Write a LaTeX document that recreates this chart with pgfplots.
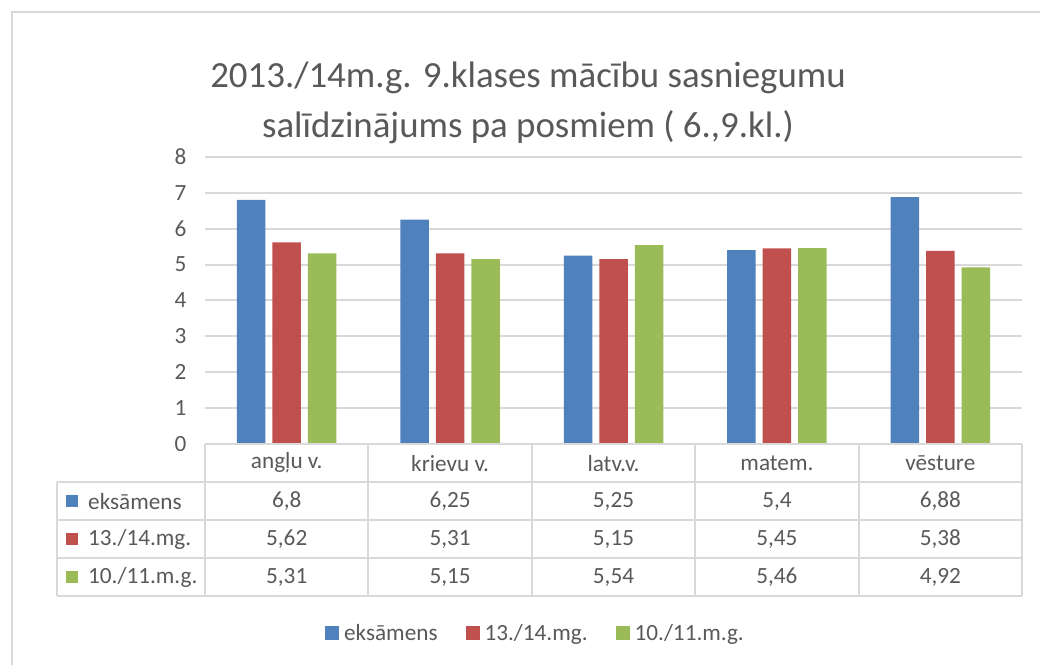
\documentclass[border=0pt]{standalone}
\usepackage{pgfplots}
\pgfplotsset{compat=1.18}
\usepackage{pgfplotstable}
\usepackage{fontspec}
\setmainfont{Carlito}

\definecolor{cblue}{HTML}{4F81BD}
\definecolor{cred}{HTML}{C0504D}
\definecolor{cgreen}{HTML}{9BBB59}
\definecolor{cgrid}{HTML}{D9D9D9}
\definecolor{ctext}{HTML}{595959}

% x = category index, one column per series
\pgfplotstableread{
x  eks   mg1314  mg1011
0  6.80  5.62    5.31
1  6.25  5.31    5.15
2  5.25  5.15    5.54
3  5.40  5.45    5.46
4  6.88  5.38    4.92
}\scores

\newcommand{\tabfont}{\fontsize{23.3}{27}\selectfont}

\pgfplotsset{
    tablerow/.style={draw=none, forget plot, point meta=explicit,
        nodes near coords={\pgfmathprintnumber[use comma, fixed, precision=2]{\pgfplotspointmeta}},
        every node near coord/.append style={anchor=center, font=\tabfont, text=ctext}},
}

\begin{document}
\begin{tikzpicture}
\begin{axis}[
    x=163.4bp, y=35.9bp,
    xmin=-0.5, xmax=4.5,
    ymin=0, ymax=8,
    clip=false,
    axis line style={draw=none},
    tick style={draw=none},
    ymajorgrids,
    grid style={cgrid, line width=2bp},
    ytick={0,1,...,8},
    xtick={0,...,4},
    xticklabels={angļu v., krievu v., latv.v., matem., vēsture},
    xticklabel style={anchor=center, yshift=-19bp},
    yticklabel style={xshift=-15bp},
    ticklabel style={font=\tabfont, text=ctext},
    /pgf/number format/assume math mode=true,
    legend columns=3,
    legend style={at={(rel axis cs:0.4045,-0.658)}, anchor=center, draw=none,
        font=\tabfont, text=ctext,
        /tikz/every even column/.append style={column sep=26bp}},
    legend image code/.code={\fill[#1] (0bp,-7bp) rectangle (14bp,7bp); \path (17bp,0bp);},
]
\addplot[ybar, bar width=28.5bp, bar shift=-35.5bp, fill=cblue, draw=none]
    table[x=x, y=eks] {\scores};
\addlegendentry{eksāmens}
\addplot[ybar, bar width=28.5bp, bar shift=0bp, fill=cred, draw=none]
    table[x=x, y=mg1314] {\scores};
\addlegendentry{13./14.mg.}
\addplot[ybar, bar width=28.5bp, bar shift=35.5bp, fill=cgreen, draw=none]
    table[x=x, y=mg1011] {\scores};
\addlegendentry{10./11.m.g.}

% data table values
\addplot[tablerow] table[x=x, y expr=-1.59, meta=eks] {\scores};
\addplot[tablerow] table[x=x, y expr=-2.65, meta=mg1314] {\scores};
\addplot[tablerow] table[x=x, y expr=-3.71, meta=mg1011] {\scores};

% table grid
\draw[cgrid, line width=2bp] (axis cs:-0.5,0) -- (axis cs:4.5,0);
\draw[cgrid, line width=2bp] (axis cs:-1.406,-1.06) -- (axis cs:4.5,-1.06);
\draw[cgrid, line width=2bp] (axis cs:-1.406,-2.12) -- (axis cs:4.5,-2.12);
\draw[cgrid, line width=2bp] (axis cs:-1.406,-3.18) -- (axis cs:4.5,-3.18);
\draw[cgrid, line width=2bp] (axis cs:-1.406,-4.24) -- (axis cs:4.5,-4.24);
\draw[cgrid, line width=2bp] (axis cs:-0.5,0) -- (axis cs:-0.5,-4.24);
\draw[cgrid, line width=2bp] (axis cs:0.5,0) -- (axis cs:0.5,-4.24);
\draw[cgrid, line width=2bp] (axis cs:1.5,0) -- (axis cs:1.5,-4.24);
\draw[cgrid, line width=2bp] (axis cs:2.5,0) -- (axis cs:2.5,-4.24);
\draw[cgrid, line width=2bp] (axis cs:3.5,0) -- (axis cs:3.5,-4.24);
\draw[cgrid, line width=2bp] (axis cs:4.5,0) -- (axis cs:4.5,-4.24);
\draw[cgrid, line width=2bp] (axis cs:-1.406,-1.06) -- (axis cs:-1.406,-4.24);

% row labels
\fill[cblue]  (axis cs:-1.314,-1.59) ++(-6bp,-6bp) rectangle ++(12bp,12bp);
\fill[cred]   (axis cs:-1.314,-2.65) ++(-6bp,-6bp) rectangle ++(12bp,12bp);
\fill[cgreen] (axis cs:-1.314,-3.71) ++(-6bp,-6bp) rectangle ++(12bp,12bp);
\node[anchor=west, inner sep=0pt, font=\tabfont, text=ctext] at (axis cs:-1.216,-1.59) {eksāmens};
\node[anchor=west, inner sep=0pt, font=\tabfont, text=ctext] at (axis cs:-1.216,-2.65) {13./14.mg.};
\node[anchor=west, inner sep=0pt, font=\tabfont, text=ctext] at (axis cs:-1.216,-3.71) {10./11.m.g.};

% title
\node[align=center, text=ctext, font=\fontsize{37}{50}\selectfont] at (axis cs:1.477,9.498)
    {2013./14m.g. 9.klases mācību sasniegumu\\salīdzinājums pa posmiem ( 6.,9.kl.)};

% outer frame and page corners
\draw[cgrid, line width=2bp] (axis cs:-1.681,-6.3) |- (axis cs:4.8,12.033);
\coordinate (bl) at (axis cs:-1.7546,-6.128);
\coordinate (tr) at (axis cs:4.610,12.368);
\end{axis}
\pgfresetboundingbox
\useasboundingbox (bl) rectangle (tr);
\end{tikzpicture}
\end{document}
